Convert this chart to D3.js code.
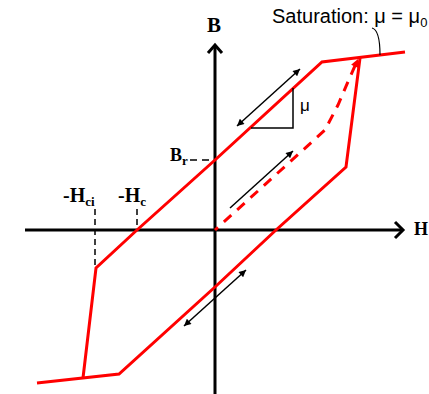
<!DOCTYPE html>
<html><head><meta charset="utf-8">
<script src="https://cdn.jsdelivr.net/npm/d3@7"></script>
<style>html,body{margin:0;padding:0;background:#fff;overflow:hidden}</style>
</head><body><svg id="c" width="429" height="394"></svg>
<script>
// ---- data (H, B) in arbitrary units ----
const descendingBranch = [[19.0,17.8],[10.7,16.8],[0,7.0],[-7.8,0],[-11.9,-3.8],[-13.2,-14.8]];
const ascendingBranch  = [[-17.8,-15.3],[-9.6,-14.4],[0,-5.7],[6.1,0],[13.1,6.3],[14.5,17.2]];
const initialCurve     = [[0,0],[11.0,10.0],[12.3,12.5],[13.5,15.3],[14.3,17.1]];
const upperArrow  = [[2.2,10.4],[8.5,16.1]];   // double-headed
const middleArrow = [[1.5,2.2],[7.8,7.9]];     // single-headed
const lowerArrow  = [[-3.1,-9.6],[3.1,-4.0]];  // double-headed
const muTriangle  = [[3.6,10.2],[7.8,10.2],[7.8,14.2]];
const Hr = 7.0, Hc = -7.8, Hci = -12.0;
const coerciveMarks = [[Hci,2.1,-3.8],[Hc,2.1,0]];
const remanenceMark = [[-2.5,Hr],[0,Hr]];
const leaderLine = [[15.7,20.2],[16.5,20.0],[16.5,17.5]];
const axisH = [-19.0,18.8], axisB = [-16.4,18.5];

const W=429,H=394;
const x = d3.scaleLinear().domain([-21.5,21.4]).range([0,W]);
const y = d3.scaleLinear().domain([23.0,-16.4]).range([0,H]);
const svg = d3.select('#c');
const line = d3.line().x(d=>x(d[0])).y(d=>y(d[1]));
const defs = svg.append('defs');
function mk(id,color,w,h,start){
  const m=defs.append('marker').attr('id',id).attr('viewBox','0 0 10 10')
    .attr('refX',10).attr('refY',5).attr('markerUnits','userSpaceOnUse')
    .attr('markerWidth',w).attr('markerHeight',h).attr('orient', start?'auto-start-reverse':'auto');
  m.append('path').attr('d','M0,0L10,5L0,10z').attr('fill',color).attr('stroke','none');
}
mk('ab','#000',8,7,true);
mk('ar','#ff0000',9,8,false);

// axes
svg.append('line').attr('x1',x(axisH[0])).attr('x2',x(axisH[1])).attr('y1',y(0)).attr('y2',y(0))
  .attr('stroke','#000').attr('stroke-width',3);
svg.append('line').attr('x1',x(0)).attr('x2',x(0)).attr('y1',y(axisB[0])).attr('y2',y(axisB[1]))
  .attr('stroke','#000').attr('stroke-width',3);
const hx=x(axisH[1]), vy=y(axisB[1]);
svg.append('path').attr('d',`M${hx-8},${y(0)-8}L${hx},${y(0)}L${hx-8},${y(0)+8}`)
  .attr('fill','none').attr('stroke','#000').attr('stroke-width',3);
svg.append('path').attr('d',`M${x(0)-7},${vy+8}L${x(0)},${vy}L${x(0)+7},${vy+8}`)
  .attr('fill','none').attr('stroke','#000').attr('stroke-width',3);

// dashed reference marks
coerciveMarks.forEach(c=>{
  svg.append('line').attr('x1',x(c[0])).attr('x2',x(c[0])).attr('y1',y(c[1])).attr('y2',y(c[2]))
    .attr('stroke','#000').attr('stroke-width',1.5).attr('stroke-dasharray','6,4');
});
svg.append('path').attr('d',line(remanenceMark)).attr('stroke','#000').attr('stroke-width',1.5)
  .attr('stroke-dasharray','7,5').attr('fill','none');

// hysteresis loop
[descendingBranch,ascendingBranch].forEach(b=>{
  svg.append('path').attr('d',line(b)).attr('fill','none').attr('stroke','#ff0000')
    .attr('stroke-width',3).attr('stroke-linejoin','miter');
});
svg.append('path').attr('d',line(initialCurve)).attr('fill','none').attr('stroke','#ff0000')
  .attr('stroke-width',3).attr('stroke-dasharray','10,8').attr('stroke-dashoffset',6)
  .attr('marker-end','url(#ar)');

// black arrows
[[upperArrow,true],[middleArrow,false],[lowerArrow,true]].forEach(([a,both])=>{
  const p=svg.append('path').attr('d',line(a)).attr('stroke','#000').attr('stroke-width',1.5)
    .attr('fill','none').attr('marker-end','url(#ab)');
  if(both) p.attr('marker-start','url(#ab)');
});
svg.append('path').attr('d',line(muTriangle)).attr('stroke','#000').attr('stroke-width',1.5).attr('fill','none');

// leader
svg.append('path').attr('d',`M${x(leaderLine[0][0])},${y(leaderLine[0][1])}Q${x(leaderLine[1][0])},${y(leaderLine[1][1])} ${x(leaderLine[2][0])},${y(leaderLine[2][1])}`)
  .attr('stroke','#000').attr('stroke-width',1.2).attr('fill','none');

// labels
const serif='"Liberation Serif","Times New Roman",serif';
const sans='"Liberation Sans",Arial,sans-serif';
function lab(txt,sub,px,py,size,subSize,anchor){
  const t=svg.append('text').attr('x',px).attr('y',py).attr('font-family',serif)
    .attr('font-weight','bold').attr('font-size',size).attr('text-anchor',anchor||'start').text(txt);
  if(sub) t.append('tspan').attr('dy',4).attr('font-size',subSize).text(sub);
}
lab('B','',x(0)-1,32,21,0,'middle');
lab('H','',414,235,18,0);
lab('B','r',170,161,18,13);
lab('-H','ci',63,202,20,13);
lab('-H','c',118,202,20,13);
svg.append('text').attr('x',300).attr('y',111).attr('font-family',sans).attr('font-size',17).text('μ');
const st=svg.append('text').attr('x',272).attr('y',23).attr('font-family',sans).attr('font-size',20).text('Saturation: μ = μ');
st.append('tspan').attr('dy',4).attr('font-size',13).text('0');
</script></body></html>
